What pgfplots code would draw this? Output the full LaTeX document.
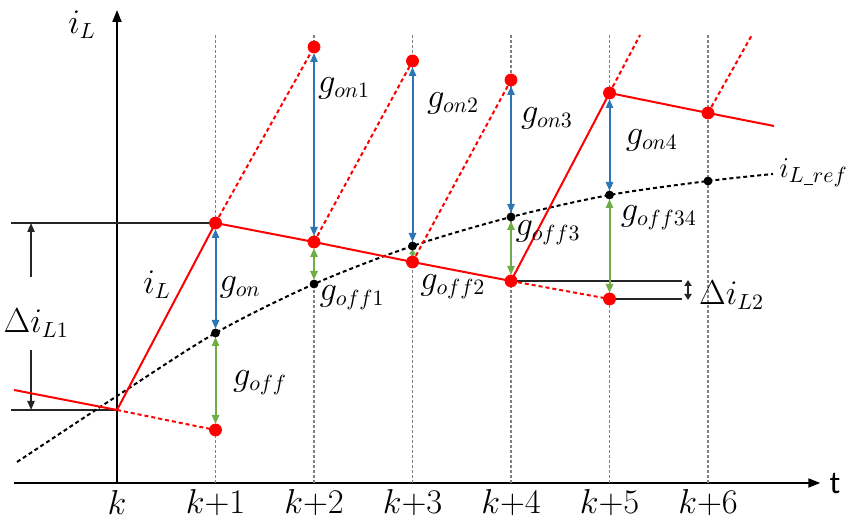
\documentclass[border=0pt]{standalone}
\usepackage{fontspec}
\usepackage{pgfplots}
\pgfplotsset{compat=1.18}
\usetikzlibrary{arrows.meta}
\newfontfamily\calib{Carlito}
\definecolor{rd}{RGB}{255,0,0}
\definecolor{bl}{RGB}{46,117,182}
\definecolor{gr}{RGB}{112,173,71}
\definecolor{gy}{RGB}{128,128,128}
\tikzset{
  tip/.tip={Triangle[length=4.5pt,width=3.6pt]},
  smalltip/.tip={Triangle[length=2.2pt,width=3pt]},
  dtip/.tip={Triangle[length=3pt,width=3.6pt]},
  gyline/.style={gy, line width=0.7pt, dash pattern=on 1.5pt off 1pt},
  rdash/.style={rd, line width=1pt, dash pattern=on 2pt off 1.5pt},
  barr/.style={bl, line width=1pt, tip-tip},
  garr/.style={gr, line width=1pt, tip-tip},
  hl/.style={black!85, line width=0.75pt},
}
\begin{document}
\begin{tikzpicture}[font=\fontsize{16}{19}\selectfont]
\begin{axis}[
  x=49.25pt, y=0.5pt,
  xmin=-1.045, xmax=7.14, ymin=0, ymax=473,
  axis lines=middle,
  axis line style={line width=1pt},
  every inner x axis line/.append style={-{Triangle[length=6pt,width=4.5pt]}},
  every inner y axis line/.append style={-{Triangle[length=6pt,width=4.5pt]}},
  xtick={0,1,2,3,4,5,6},
  xticklabels={$k$,$k{+}1$,$k{+}2$,$k{+}3$,$k{+}4$,$k{+}5$,$k{+}6$},
  ytick=\empty,
  major tick length=0pt,
  hide obscured x ticks=false,
  xticklabel style={anchor=center, yshift=-10pt},
  clip=false,
]
% frame corners giving the reference proportions
\coordinate (BL) at (axis cs:-1.188,-36);
\coordinate (TR) at (axis cs:7.401,483);

% gray grid verticals
\addplot[gyline] coordinates {(1,0) (1,448)};
\addplot[gyline] coordinates {(2,0) (2,448)};
\addplot[gyline] coordinates {(3,0) (3,448)};
\addplot[gyline] coordinates {(4,0) (4,448)};
\addplot[gyline] coordinates {(5,0) (5,448)};
\addplot[gyline] coordinates {(6,0) (6,448)};

% helper horizontal lines
\addplot[hl] coordinates {(-1.076,260) (1,260)};
\addplot[hl] coordinates {(-1.076,73) (0,73)};
\addplot[hl] coordinates {(4,202) (5.736,202)};
\addplot[hl] coordinates {(5,184) (5.736,184)};
\addplot[hl, -tip] coordinates {(-0.873,206) (-0.873,260)};
\addplot[hl, -tip] coordinates {(-0.873,133) (-0.873,73)};
\addplot[hl, dtip-dtip] coordinates {(5.797,203) (5.797,183)};

% reference current
\addplot[black, line width=1pt, dash pattern=on 2pt off 1.5pt, smooth] coordinates {(-1.015,21) (0,87) (1,150) (2,199) (3,237) (4,266) (5,288) (6,302) (6.66,309)};

% inductor current (solid)
\addplot[rd, line width=1pt] coordinates {(-1.045,93) (0,73) (1,260) (2,241) (3,221) (4,202) (5,390) (6,370) (6.67,357)};

% predicted branches (dotted)
\addplot[rdash] coordinates {(0,73) (1,53)};
\addplot[rdash] coordinates {(1,260) (2,436)};
\addplot[rdash] coordinates {(2,241) (3,422)};
\addplot[rdash] coordinates {(3,221) (4,403)};
\addplot[rdash] coordinates {(4,202) (5,184)};
\addplot[rdash] coordinates {(5,390) (5.31,448)};
\addplot[rdash] coordinates {(6,370) (6.44,447)};

% cost arrows
\addplot[barr, shorten <=3pt, shorten >=2pt] coordinates {(1,260) (1,150)};
\addplot[barr, shorten <=3pt, shorten >=3pt] coordinates {(2,436) (2,241)};
\addplot[barr, shorten <=3pt, shorten >=2pt] coordinates {(3,422) (3,237)};
\addplot[barr, shorten <=3pt, shorten >=2pt] coordinates {(4,403) (4,266)};
\addplot[barr, shorten <=3pt, shorten >=2pt] coordinates {(5,390) (5,288)};
\addplot[garr, shorten <=2pt, shorten >=3pt] coordinates {(1,150) (1,53)};
\addplot[garr, shorten <=3pt, shorten >=2pt] coordinates {(2,241) (2,199)};
\addplot[gr, line width=1pt, smalltip-smalltip, shorten <=1.6pt, shorten >=2.4pt] coordinates {(3,237) (3,221)};
\addplot[garr, shorten <=2pt, shorten >=3pt] coordinates {(4,266) (4,202)};
\addplot[garr, shorten <=2pt, shorten >=3pt] coordinates {(5,288) (5,184)};

% dots
\addplot[only marks, mark=*, mark size=3pt, rd, mark options={draw=rd, fill=rd}] coordinates {(1,53) (1,260) (2,436) (2,241) (3,422) (3,221) (4,403) (4,202) (5,390) (5,184) (6,370)};
\addplot[only marks, mark=*, mark size=2pt, black] coordinates {(1,150) (2,199) (3,237) (4,266) (5,288) (6,302)};

% labels
\node at (axis cs:-0.355,458) {$i_L$};
\node[font=\calib\fontsize{16}{18}\selectfont] at (axis cs:7.29,-1) {t};
\node at (axis cs:0.406,198) {$i_L$};
\node at (axis cs:1.249,196) {$g_{on}$};
\node at (axis cs:1.452,100) {$g_{off}$};
\node at (axis cs:2.305,395) {$g_{on1}$};
\node at (axis cs:3.411,380) {$g_{on2}$};
\node at (axis cs:4.365,365) {$g_{on3}$};
\node at (axis cs:4.376,250) {$g_{off3}$};
\node at (axis cs:5.43,343) {$g_{on4}$};
\node at (axis cs:5.50,265) {$g_{off34}$};
\node[anchor=west, inner sep=0pt, font=\fontsize{15}{18}\selectfont] at (axis cs:6.72,310) {$i_{L\rule[-0.9pt]{0.3em}{0.5pt}ref}$};
\node at (axis cs:2.386,185) {$g_{off1}$};
\node at (axis cs:3.41,196) {$g_{off2}$};
\node at (axis cs:6.24,188) {$\Delta i_{L2}$};
\node at (axis cs:-0.82,160) {$\Delta i_{L1}$};
\end{axis}
\pgfresetboundingbox
\path[use as bounding box] (BL) rectangle (TR);
\end{tikzpicture}
\end{document}
